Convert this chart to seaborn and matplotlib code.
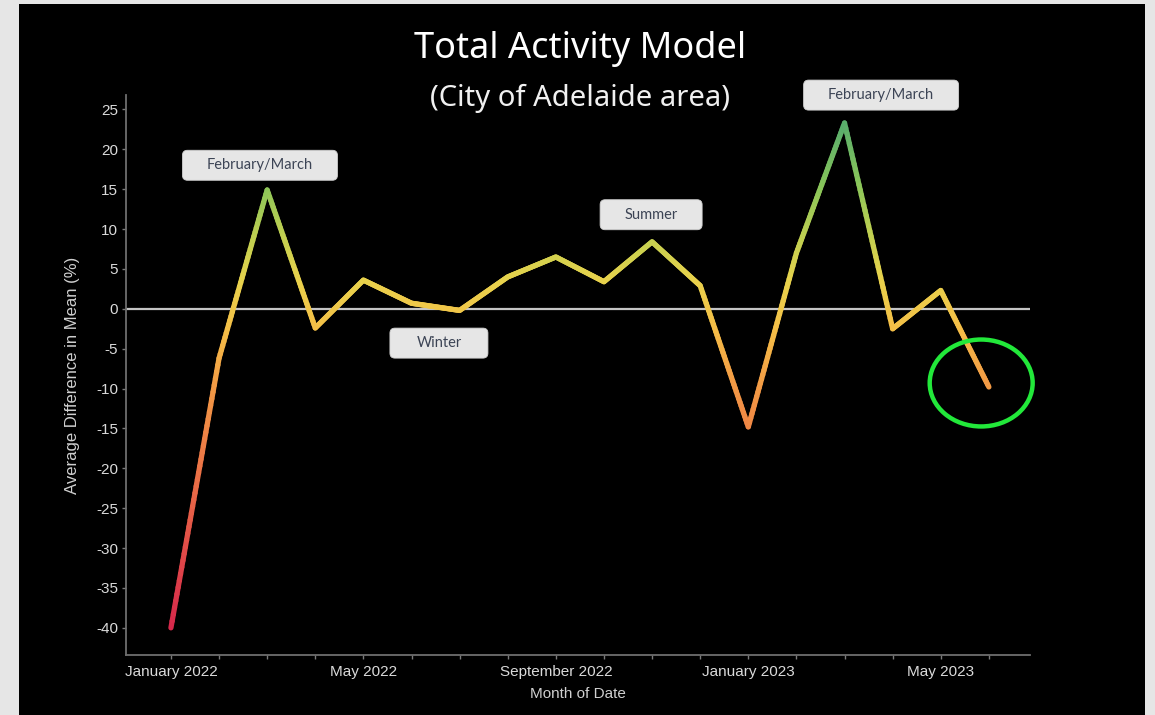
import numpy as np
import matplotlib
matplotlib.use("Agg")
import matplotlib.pyplot as plt
import matplotlib.transforms as mtransforms
from matplotlib.collections import LineCollection
from matplotlib.colors import LinearSegmentedColormap, Normalize
from matplotlib.patches import Ellipse, FancyBboxPatch, Rectangle
import seaborn as sns

# monthly values
months = ["January 2022", "February 2022", "March 2022", "April 2022", "May 2022",
          "June 2022", "July 2022", "August 2022", "September 2022", "October 2022",
          "November 2022", "December 2022", "January 2023", "February 2023",
          "March 2023", "April 2023", "May 2023", "June 2023"]
avg_diff = [-40.0, -6.2, 14.9, -2.4, 3.6, 0.7, -0.2, 4.0, 6.5, 3.4,
            8.4, 2.9, -14.8, 7.0, 23.3, -2.5, 2.3, -9.8]
shown_months = ["January 2022", "May 2022", "September 2022", "January 2023", "May 2023"]
yticks = list(range(-40, 30, 5))

# callout boxes: text, month position, value position, box size (inches)
notes = [
    ("February/March", 1.85, 18.0, 1.55),
    ("Winter", 5.57, -4.3, 0.98),
    ("Summer", 9.98, 11.8, 1.02),
    ("February/March", 14.76, 26.8, 1.55),
]

sns.set_theme(style="dark")
plt.rcParams["font.family"] = ["Liberation Sans", "DejaVu Sans"]

fig = plt.figure(figsize=(11.55, 7.15), dpi=100, facecolor="#e6e6e6")
fig.patches.append(Rectangle((19 / 1155, 0), 1126 / 1155, 711 / 715,
                             transform=fig.transFigure, facecolor="black",
                             edgecolor="none", zorder=-5))
ax = fig.add_axes([0.109, 0.084, 0.783, 0.783])
ax.set_facecolor("black")

x = np.arange(len(months))
y = np.array(avg_diff)

# zero line
ax.axhline(0, color="#c4c4c4", lw=1.6, zorder=1)

# base line through seaborn, then a value-coloured gradient on top
sns.lineplot(x=x, y=y, ax=ax, color="#f2c64a", lw=1, zorder=2)

cmap = LinearSegmentedColormap.from_list("act", [
    (0.00, "#d6284b"), (0.16, "#e24c48"), (0.32, "#ec7446"), (0.48, "#f39a45"),
    (0.59, "#f5be47"), (0.69, "#e8d24c"), (0.77, "#c4d050"), (0.88, "#88c55a"),
    (1.00, "#58ad6c")])
norm = Normalize(vmin=-40, vmax=23.3)
segs, cols = [], []
t = np.linspace(0, 1, 41)
for i in range(len(x) - 1):
    xs = x[i] + (x[i + 1] - x[i]) * t
    ys = y[i] + (y[i + 1] - y[i]) * t
    for j in range(len(t) - 1):
        segs.append([(xs[j], ys[j]), (xs[j + 1], ys[j + 1])])
        cols.append(cmap(norm((ys[j] + ys[j + 1]) / 2)))
lc = LineCollection(segs, colors=cols, linewidths=3.8, capstyle="round",
                    joinstyle="round", zorder=3)
ax.add_collection(lc)

# callouts
for label, mx, my, w in notes:
    tr = fig.dpi_scale_trans + mtransforms.ScaledTranslation(mx, my, ax.transData)
    box = FancyBboxPatch((-w / 2, -0.15), w, 0.30,
                         boxstyle="round,pad=0,rounding_size=0.05",
                         transform=tr, facecolor="#e6e6e6", edgecolor="#d0d0d0",
                         lw=0.6, clip_on=False, zorder=5)
    ax.add_patch(box)
    ax.text(mx, my, label, ha="center", va="center", fontsize=10.5,
            family=["Lato", "DejaVu Sans"], color="#3c4455", zorder=6,
            clip_on=False)

# highlight the latest month
ax.add_patch(Ellipse((16.84, -9.3), 2.14, 10.9, facecolor="none",
                     edgecolor="#22e83a", lw=3.2, zorder=4, clip_on=False))

ax.set_xlim(-0.936, 17.86)
ax.set_ylim(-43.4, 26.8)
ax.set_xticks(x)
ax.set_xticklabels([m if m in shown_months else "" for m in months])
ax.set_yticks(yticks)
ax.set_yticklabels([str(v) for v in yticks])
ax.grid(False)

for side in ["top", "right"]:
    ax.spines[side].set_visible(False)
for side in ["left", "bottom"]:
    ax.spines[side].set_visible(True)
    ax.spines[side].set_color("#6e6e6e")
    ax.spines[side].set_linewidth(1.3)

ax.tick_params(axis="both", which="major", direction="out", length=3, width=1,
               color="#7a7a7a", labelcolor="#dadada", labelsize=11, pad=2.5,
               bottom=True, left=True)
ax.tick_params(axis="x", pad=4)

ax.set_xlabel("Month of Date", color="#d0d0d0", fontsize=11, labelpad=6)
ax.set_ylabel("Average Difference in Mean (%)", color="#d0d0d0", fontsize=12)
ax.yaxis.set_label_coords(-0.051, 0.5)

fig.text(580 / 1155, 1 - 58 / 715, "Total Activity Model", ha="center",
         va="baseline", fontsize=26, color="white", family=["Noto Sans", "DejaVu Sans"])
fig.text(580 / 1155, 1 - 106 / 715, "(City of Adelaide area)", ha="center",
         va="baseline", fontsize=21, color="#f0f0f0", family=["Noto Sans", "DejaVu Sans"])

fig.savefig("out.png", dpi=100, facecolor=fig.get_facecolor())
